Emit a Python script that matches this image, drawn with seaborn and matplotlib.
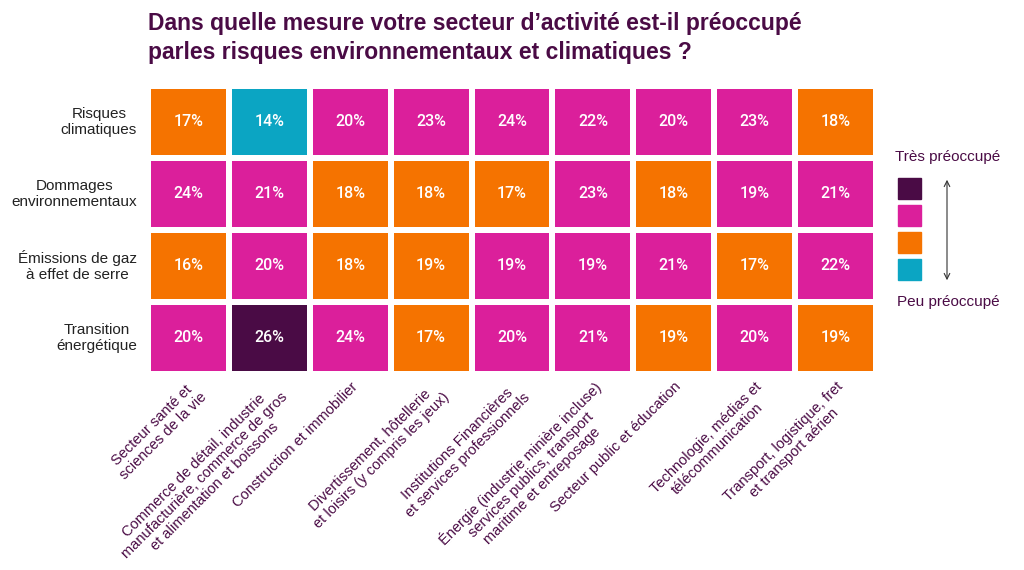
import matplotlib
matplotlib.use("Agg")
import matplotlib.pyplot as plt
import seaborn as sns
import numpy as np
from matplotlib.colors import ListedColormap
from matplotlib.patches import Rectangle

rows = ["Risques\nclimatiques", "Dommages\nenvironnementaux",
        "Émissions de gaz\nà effet de serre", "Transition\nénergétique"]
cols = ["Secteur santé et\nsciences de la vie",
        "Commerce de détail, industrie\nmanufacturière, commerce de gros\net alimentation et boissons",
        "Construction et immobilier",
        "Divertissement, hôtellerie\net loisirs (y compris les jeux)",
        "Institutions Financières\net services professionnels",
        "Énergie (industrie minière incluse)\nservices publics, transport\nmaritime et entreposage",
        "Secteur public et éducation",
        "Technologie, médias et\ntélécommunication",
        "Transport, logistique, fret\net transport aérien"]
values = [[17, 14, 20, 23, 24, 22, 20, 23, 18],
          [24, 21, 18, 18, 17, 23, 18, 19, 21],
          [16, 20, 18, 19, 19, 19, 21, 17, 22],
          [20, 26, 24, 17, 20, 21, 19, 20, 19]]
# concern level: 0 teal (peu), 1 orange, 2 magenta, 3 dark (très)
levels = [[1, 0, 2, 2, 2, 2, 2, 2, 1],
          [2, 2, 1, 1, 1, 2, 1, 2, 2],
          [1, 2, 1, 1, 2, 2, 2, 1, 2],
          [2, 3, 2, 1, 2, 2, 1, 2, 1]]
palette = ["#0BA5C3", "#F57300", "#DB1F9B", "#4A0B45"]
purple = "#4A0B45"

plt.rcParams["font.family"] = ["Liberation Sans", "DejaVu Sans"]

fig = plt.figure(figsize=(10.24, 5.7), dpi=100)
ax = fig.add_axes([148/1024, 1-374/570, 728/1024, 288/570])
annot = np.array([[f"{v}%" for v in r] for r in values])
sns.heatmap(np.array(levels), cmap=ListedColormap(palette), vmin=-0.5, vmax=3.5,
            annot=annot, fmt="", cbar=False, linewidths=3, linecolor="white",
            annot_kws={"color": "white", "fontsize": 11.5, "family": "Roboto", "fontweight": "medium"}, ax=ax)
ax.set_yticklabels(rows, rotation=0, fontsize=11, color="#222222", ha="right", multialignment="center")
ax.set_xticklabels(cols, rotation=45, ha="right", rotation_mode="anchor", fontsize=10.5,
                   color=purple, multialignment="center", linespacing=1.1)
for lbl in ax.get_xticklabels():
    lbl.set_x(lbl.get_position()[0] + 0.15)
ax.tick_params(axis="y", length=0, pad=8)
ax.tick_params(axis="x", length=0, pad=4)

fig.text(148/1024, 1-38/570, "Dans quelle mesure votre secteur d’activité est-il préoccupé\nparles risques environnementaux et climatiques ?",
         fontsize=16.5, fontweight="bold", color=purple, va="center", linespacing=1.3)

# legend
lax = fig.add_axes([0, 0, 1, 1]); lax.set_xlim(0, 1024); lax.set_ylim(570, 0); lax.axis("off")
for i, c in enumerate(palette[::-1]):
    lax.add_patch(Rectangle((898, 178 + i*27), 23, 21, color=c))
lax.annotate("", xy=(947, 283), xytext=(947, 177),
             arrowprops=dict(arrowstyle="<->", color="#333333", lw=0.8))
lax.text(948, 157, "Très préoccupé", ha="center", va="center", fontsize=11, color=purple)
lax.text(948, 302, "Peu préoccupé", ha="center", va="center", fontsize=11, color=purple)

fig.savefig("out.png", dpi=100)
